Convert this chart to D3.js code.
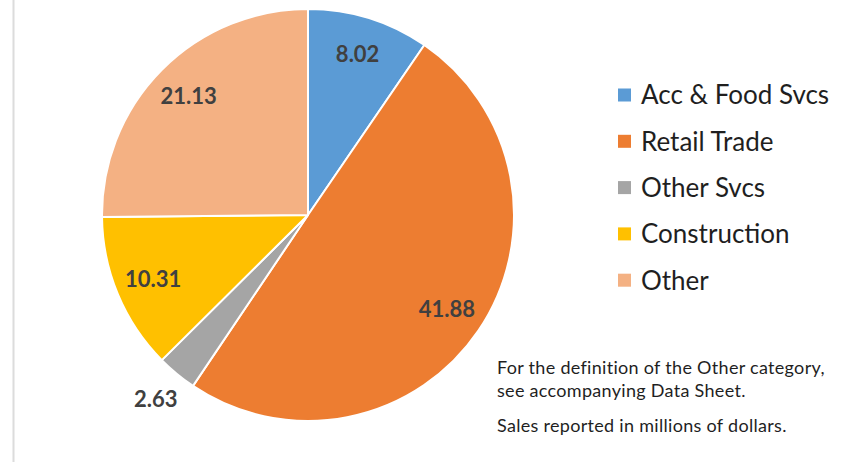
<!DOCTYPE html>
<html>
<head>
<meta charset="utf-8">
<script src="https://cdn.jsdelivr.net/npm/d3@7"></script>
<style>
  html, body { margin: 0; padding: 0; background: #fff; }
  svg { display: block; font-family: Lato, 'Open Sans', sans-serif; }
</style>
</head>
<body>
<svg id="chart" width="847" height="466"></svg>
<script>
// Slice data, clockwise from 12 o'clock
const categories = ['Acc & Food Svcs', 'Retail Trade', 'Other Svcs', 'Construction', 'Other'];
const values = [8.02, 41.88, 2.63, 10.31, 21.13];
const colors = ['#5b9bd5', '#ed7d31', '#a5a5a5', '#ffc000', '#f4b183'];
const notes = [
  'For the definition of the Other category,',
  'see accompanying Data Sheet.',
  'Sales reported in millions of dollars.',
];

const CENTER = { X: 308, Y: 215 };
const RADIUS = 206;

const svg = d3.select('#chart');

// Thin frame line on the left
svg.append('line')
  .attr('x1', 13.5).attr('x2', 13.5)
  .attr('y1', 0).attr('y2', 462)
  .attr('stroke', '#dcdcdc')
  .attr('stroke-width', 2);

const color = d3.scaleOrdinal().domain(categories).range(colors);

const pie = d3.pie()
  .sort(null)
  .value(d => d.value);

const data = categories.map((c, i) => ({ name: c, value: values[i] }));
const arcs = pie(data);

const arc = d3.arc().innerRadius(0).outerRadius(RADIUS);
const labelArc = d3.arc().innerRadius(RADIUS * 0.815).outerRadius(RADIUS * 0.815);
const outerLabelArc = d3.arc().innerRadius(RADIUS * 1.16).outerRadius(RADIUS * 1.16);

const g = svg.append('g')
  .attr('transform', `translate(${CENTER.X},${CENTER.Y})`);

g.selectAll('path.slice')
  .data(arcs)
  .enter()
  .append('path')
  .attr('class', 'slice')
  .attr('d', arc)
  .attr('fill', d => color(d.data.name))
  .attr('stroke', '#fff')
  .attr('stroke-width', 2)
  .attr('stroke-linejoin', 'round');

// Data labels; tiny slices get their label outside the pie
g.selectAll('text.value')
  .data(arcs)
  .enter()
  .append('text')
  .attr('class', 'value')
  .attr('transform', (d) => {
    const small = (d.endAngle - d.startAngle) < 0.3;
    const [x, y] = small ? outerLabelArc.centroid(d) : labelArc.centroid(d);
    return `translate(${x},${y})`;
  })
  .attr('text-anchor', 'middle')
  .attr('dy', '0.34em')
  .attr('font-size', 22)
  .attr('font-weight', 'bold')
  .attr('fill', '#404040')
  .text(d => d3.format('.2f')(d.data.value));

// Legend
const legend = svg.append('g')
  .attr('transform', 'translate(618,95)');

const item = legend.selectAll('g.item')
  .data(categories)
  .enter()
  .append('g')
  .attr('class', 'item')
  .attr('transform', (d, i) => `translate(0,${i * 46.3})`);

item.append('rect')
  .attr('x', 0)
  .attr('y', -6.5)
  .attr('width', 13)
  .attr('height', 13)
  .attr('fill', d => color(d));

item.append('text')
  .attr('x', 23)
  .attr('dy', '0.36em')
  .attr('font-size', 26)
  .attr('fill', '#1f1f1f')
  .text(d => d);

// Footnote
svg.append('g')
  .selectAll('text')
  .data(notes)
  .enter()
  .append('text')
  .attr('x', 497)
  .attr('y', (d, i) => [374, 397, 432][i])
  .attr('font-size', 18)
  .attr('letter-spacing', 0.3)
  .attr('fill', '#1f1f1f')
  .text(d => d);
</script>
</body>
</html>
